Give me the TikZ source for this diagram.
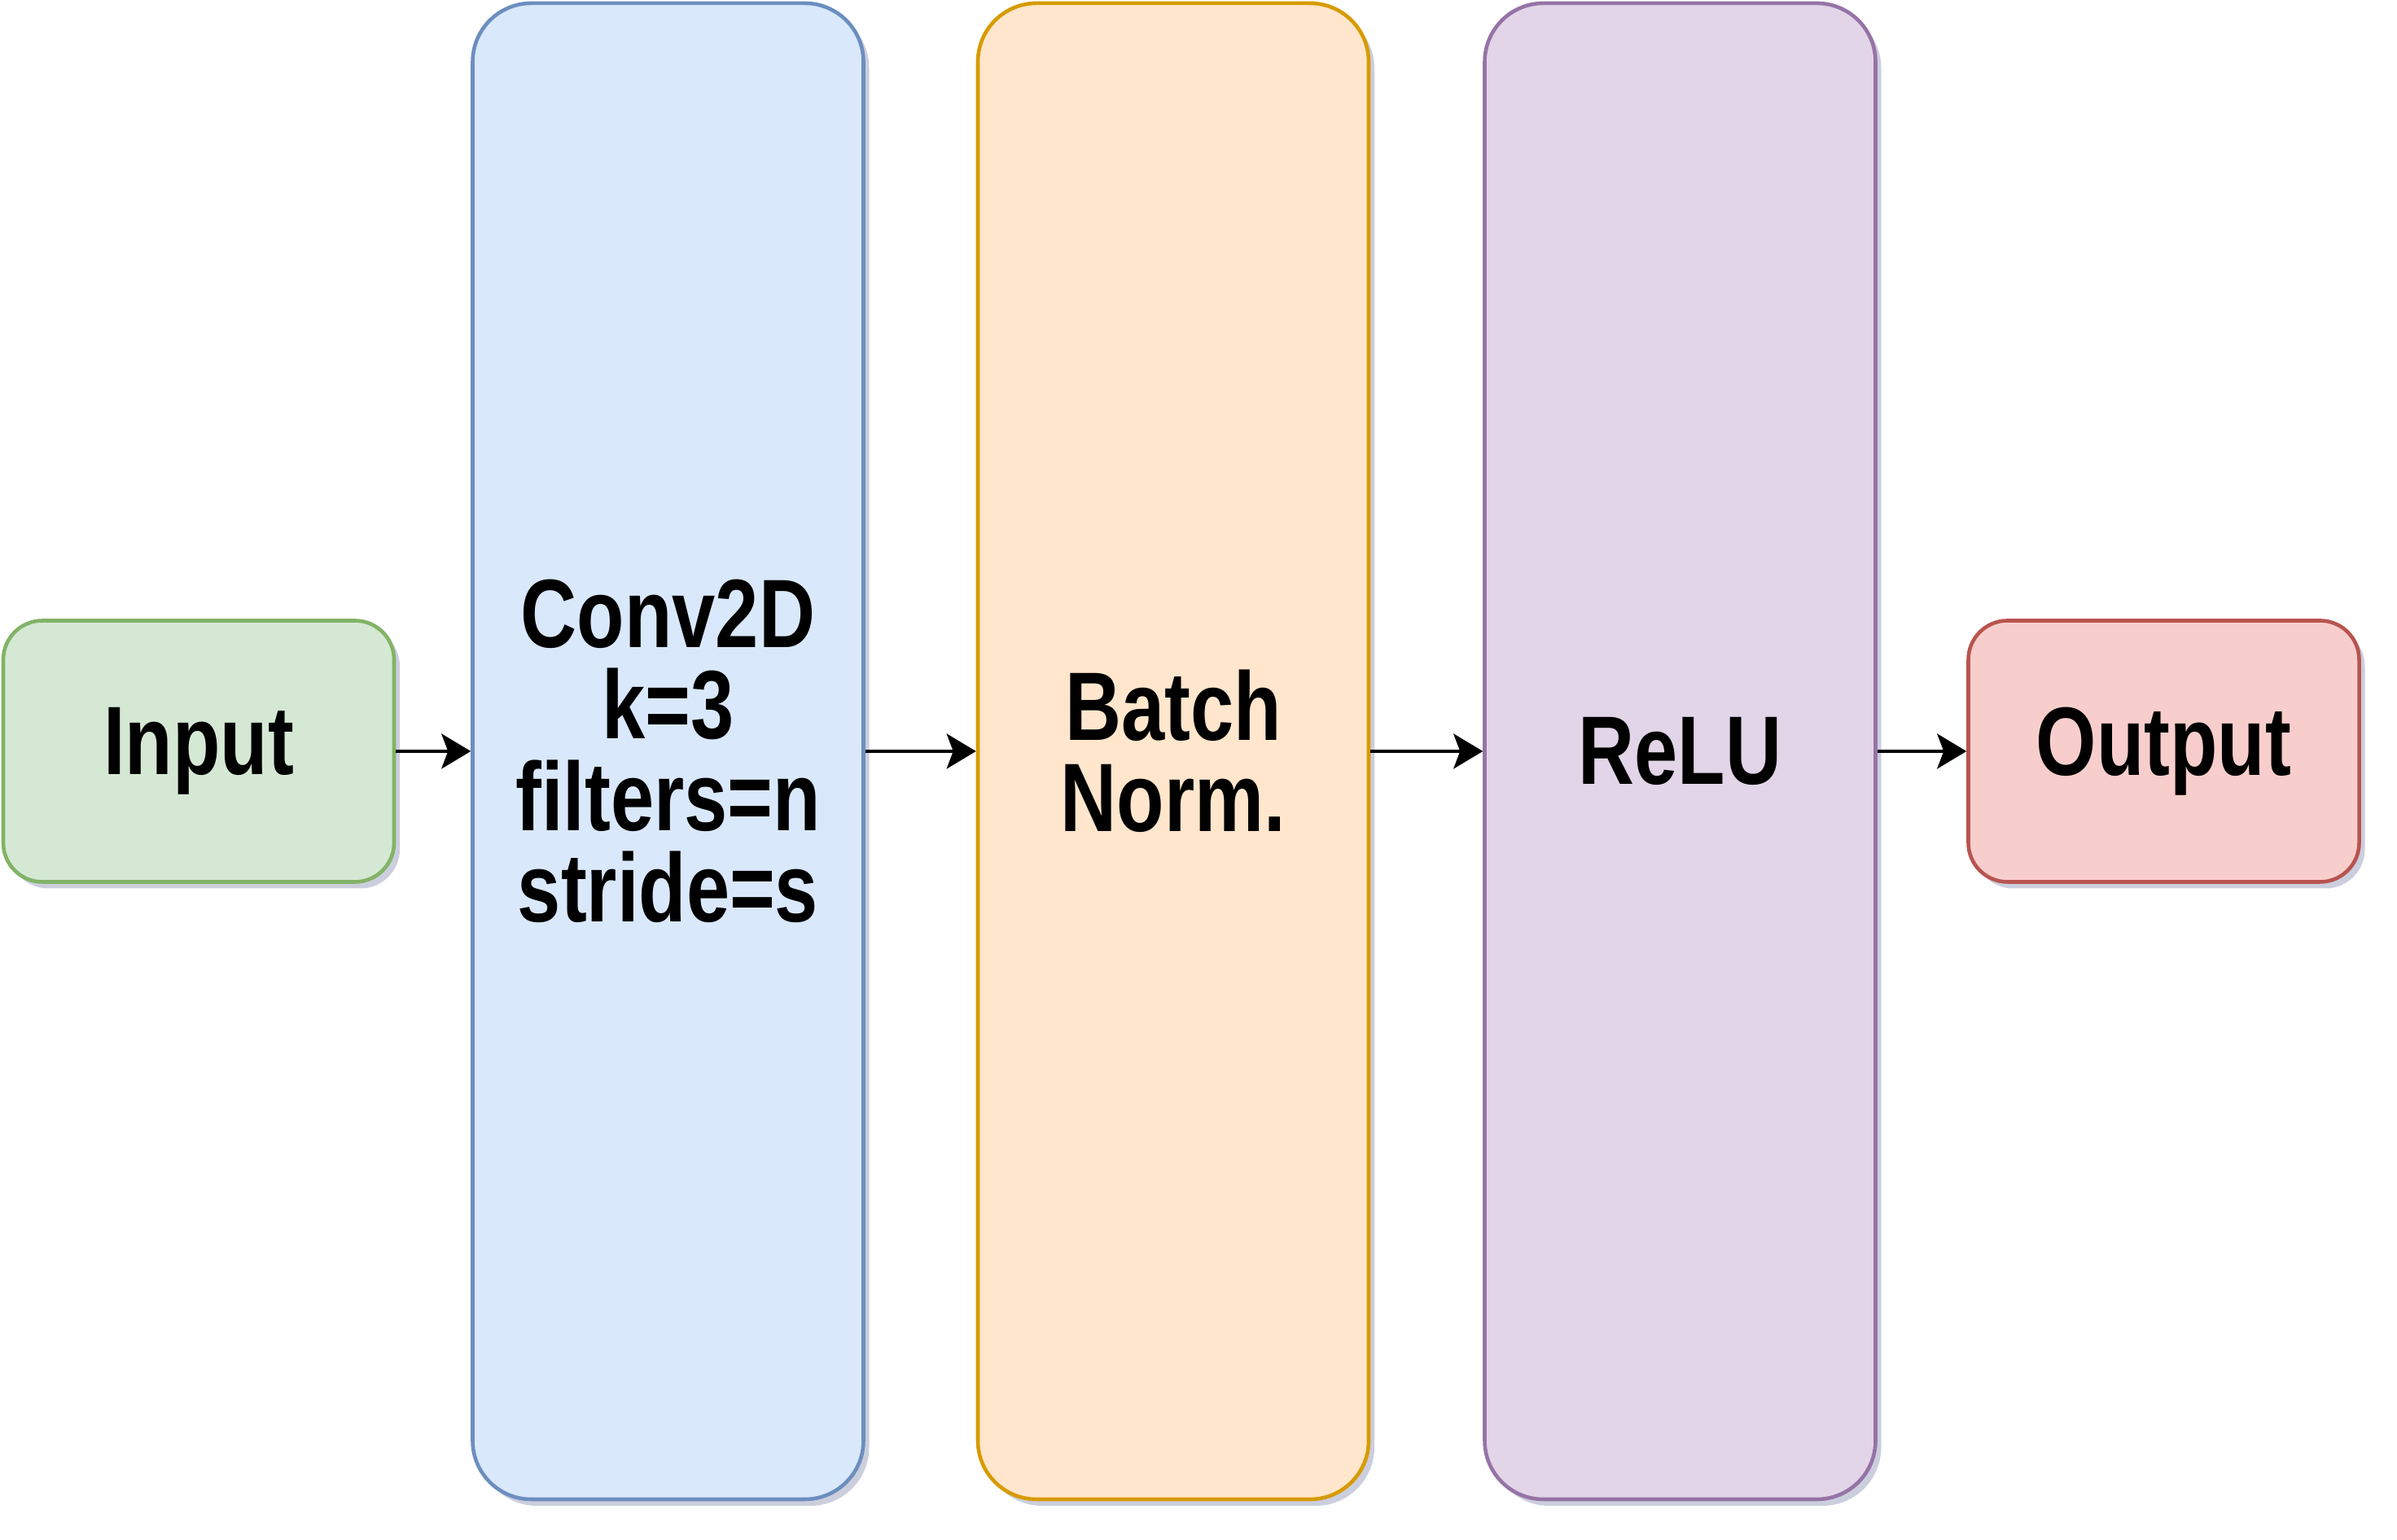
\documentclass[tikz,border=0pt]{standalone}
\usepackage{fontspec}
\newfontfamily\blkfont[FakeStretch=0.8]{Liberation Sans}
\usetikzlibrary{positioning,arrows.meta,shadows}

\definecolor{inFill}{HTML}{D5E8D4}\definecolor{inLine}{HTML}{82B366}
\definecolor{convFill}{HTML}{DAE8FC}\definecolor{convLine}{HTML}{6C8EBF}
\definecolor{bnFill}{HTML}{FFE6CC}\definecolor{bnLine}{HTML}{D79B00}
\definecolor{reluFill}{HTML}{E1D5E7}\definecolor{reluLine}{HTML}{9673A6}
\definecolor{outFill}{HTML}{F8CECC}\definecolor{outLine}{HTML}{B85450}
\definecolor{shade}{HTML}{7E84AA}

\begin{document}
\begin{tikzpicture}[
  blk/.style={rectangle, draw, line width=1.3pt, minimum width=4.8cm, align=center,
    font=\blkfont\bfseries\fontsize{34}{32}\selectfont,
    drop shadow={shadow xshift=0.07cm, shadow yshift=-0.08cm, fill=shade, opacity=0.4}},
  small/.style={blk, minimum height=3.21cm, rounded corners=0.48cm},
  tall/.style={blk, minimum height=18.38cm, rounded corners=0.72cm},
  >={Stealth[length=0.36cm, width=0.43cm, inset=0.08cm]}, every edge/.style={draw, ->, line width=1.05pt}
]
  \useasboundingbox (0,0) rectangle (29.44,18.92);

  \node[small, fill=inFill, draw=inLine] (input) at (2.44,9.69) {Input};
  \node[tall, fill=convFill, draw=convLine] (conv) at (8.205,9.69) {Conv2D\\k=3\\filters=n\\stride=s};
  \node[tall, fill=bnFill, draw=bnLine] (bnorm) at (14.41,9.69) {Batch\\Norm.};
  \node[tall, fill=reluFill, draw=reluLine] (relu) at (20.635,9.69) {ReLU};
  \node[small, fill=outFill, draw=outLine] (output) at (26.575,9.69) {Output};

  \draw (input) edge (conv)
        (conv) edge (bnorm)
        (bnorm) edge (relu)
        (relu) edge (output);
\end{tikzpicture}
\end{document}
